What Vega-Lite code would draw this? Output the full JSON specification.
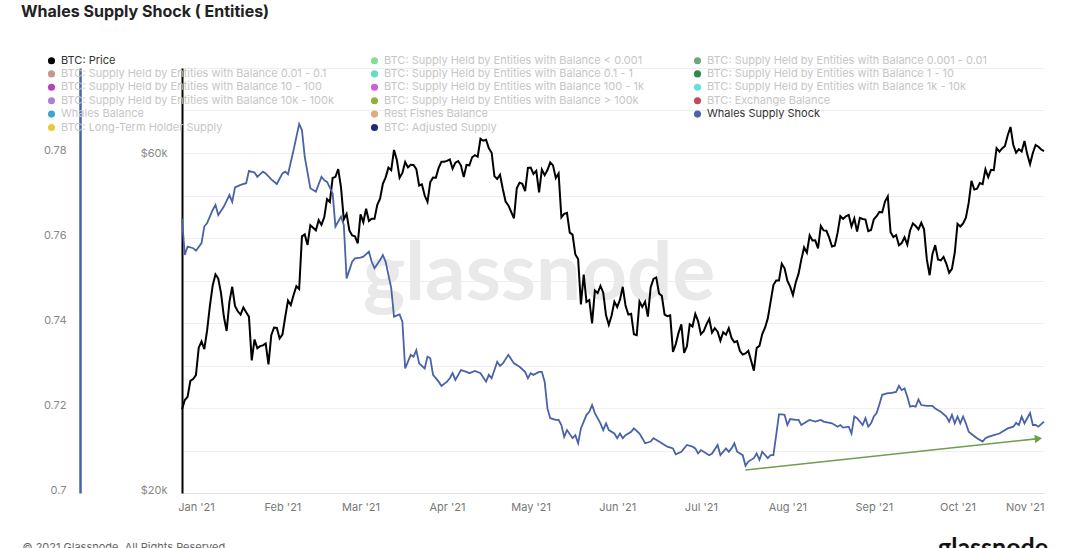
{
  "$schema": "https://vega.github.io/schema/vega-lite/v6.json",
  "width": 862,
  "height": 425,
  "autosize": {"type": "none"},
  "padding": {"left": 182, "top": 68, "right": 36, "bottom": 55},
  "background": "#ffffff",
  "title": {
    "text": "Whales Supply Shock ( Entities)",
    "anchor": "start",
    "font": "Inter",
    "fontSize": 16,
    "fontWeight": "bold",
    "color": "#222222",
    "dx": -1,
    "dy": -31
  },
  "datasets": {
    "price": [
      {"date": "2020-12-27", "price": 26272}, {"date": "2020-12-28", "price": 27084}, {"date": "2020-12-29", "price": 27362},
      {"date": "2020-12-30", "price": 28840}, {"date": "2020-12-31", "price": 29001}, {"date": "2021-01-01", "price": 29374},
      {"date": "2021-01-02", "price": 32127}, {"date": "2021-01-03", "price": 32782}, {"date": "2021-01-04", "price": 31971},
      {"date": "2021-01-05", "price": 33992}, {"date": "2021-01-06", "price": 36824}, {"date": "2021-01-07", "price": 39371},
      {"date": "2021-01-08", "price": 40797}, {"date": "2021-01-09", "price": 40254}, {"date": "2021-01-10", "price": 38356},
      {"date": "2021-01-11", "price": 35566}, {"date": "2021-01-12", "price": 33922}, {"date": "2021-01-13", "price": 37316},
      {"date": "2021-01-14", "price": 39187}, {"date": "2021-01-15", "price": 36825}, {"date": "2021-01-16", "price": 36178},
      {"date": "2021-01-17", "price": 35792}, {"date": "2021-01-18", "price": 36630}, {"date": "2021-01-19", "price": 36069},
      {"date": "2021-01-20", "price": 35548}, {"date": "2021-01-21", "price": 30826}, {"date": "2021-01-22", "price": 33005},
      {"date": "2021-01-23", "price": 32067}, {"date": "2021-01-24", "price": 32289}, {"date": "2021-01-25", "price": 32366},
      {"date": "2021-01-26", "price": 32569}, {"date": "2021-01-27", "price": 30432}, {"date": "2021-01-28", "price": 33466},
      {"date": "2021-01-29", "price": 34316}, {"date": "2021-01-30", "price": 34269}, {"date": "2021-01-31", "price": 33114},
      {"date": "2021-02-01", "price": 33537}, {"date": "2021-02-02", "price": 35510}, {"date": "2021-02-03", "price": 37472},
      {"date": "2021-02-04", "price": 36926}, {"date": "2021-02-05", "price": 38144}, {"date": "2021-02-06", "price": 39266},
      {"date": "2021-02-07", "price": 38903}, {"date": "2021-02-08", "price": 46196}, {"date": "2021-02-09", "price": 46481},
      {"date": "2021-02-10", "price": 44918}, {"date": "2021-02-11", "price": 47909}, {"date": "2021-02-12", "price": 47505},
      {"date": "2021-02-13", "price": 47105}, {"date": "2021-02-14", "price": 48717}, {"date": "2021-02-15", "price": 47945},
      {"date": "2021-02-16", "price": 49199}, {"date": "2021-02-17", "price": 52149}, {"date": "2021-02-18", "price": 51679},
      {"date": "2021-02-19", "price": 55888}, {"date": "2021-02-20", "price": 56100}, {"date": "2021-02-21", "price": 57539},
      {"date": "2021-02-22", "price": 54207}, {"date": "2021-02-23", "price": 48824}, {"date": "2021-02-24", "price": 49705},
      {"date": "2021-02-25", "price": 47093}, {"date": "2021-02-26", "price": 46339}, {"date": "2021-02-27", "price": 46188},
      {"date": "2021-02-28", "price": 45137}, {"date": "2021-03-01", "price": 49631}, {"date": "2021-03-02", "price": 48378},
      {"date": "2021-03-03", "price": 50538}, {"date": "2021-03-04", "price": 48561}, {"date": "2021-03-05", "price": 48927},
      {"date": "2021-03-06", "price": 48912}, {"date": "2021-03-07", "price": 51206}, {"date": "2021-03-08", "price": 52246},
      {"date": "2021-03-09", "price": 54824}, {"date": "2021-03-10", "price": 56008}, {"date": "2021-03-11", "price": 57805},
      {"date": "2021-03-12", "price": 57332}, {"date": "2021-03-13", "price": 61243}, {"date": "2021-03-14", "price": 59302},
      {"date": "2021-03-15", "price": 55907}, {"date": "2021-03-16", "price": 56804}, {"date": "2021-03-17", "price": 58870},
      {"date": "2021-03-18", "price": 57858}, {"date": "2021-03-19", "price": 58346}, {"date": "2021-03-20", "price": 58313},
      {"date": "2021-03-21", "price": 57523}, {"date": "2021-03-22", "price": 54529}, {"date": "2021-03-23", "price": 54738},
      {"date": "2021-03-24", "price": 52774}, {"date": "2021-03-25", "price": 51704}, {"date": "2021-03-26", "price": 55137},
      {"date": "2021-03-27", "price": 55974}, {"date": "2021-03-28", "price": 55947}, {"date": "2021-03-29", "price": 57750},
      {"date": "2021-03-30", "price": 58917}, {"date": "2021-03-31", "price": 58918}, {"date": "2021-04-01", "price": 59095},
      {"date": "2021-04-02", "price": 59384}, {"date": "2021-04-03", "price": 57604}, {"date": "2021-04-04", "price": 58760},
      {"date": "2021-04-05", "price": 59057}, {"date": "2021-04-06", "price": 58192}, {"date": "2021-04-07", "price": 56048},
      {"date": "2021-04-08", "price": 58323}, {"date": "2021-04-09", "price": 58245}, {"date": "2021-04-10", "price": 59793},
      {"date": "2021-04-11", "price": 60204}, {"date": "2021-04-12", "price": 59893}, {"date": "2021-04-13", "price": 63503},
      {"date": "2021-04-14", "price": 63110}, {"date": "2021-04-15", "price": 63314}, {"date": "2021-04-16", "price": 61572},
      {"date": "2021-04-17", "price": 60683}, {"date": "2021-04-18", "price": 56216}, {"date": "2021-04-19", "price": 55724},
      {"date": "2021-04-20", "price": 56473}, {"date": "2021-04-21", "price": 53906}, {"date": "2021-04-22", "price": 51762},
      {"date": "2021-04-23", "price": 51093}, {"date": "2021-04-24", "price": 50050}, {"date": "2021-04-25", "price": 49004},
      {"date": "2021-04-26", "price": 54021}, {"date": "2021-04-27", "price": 55033}, {"date": "2021-04-28", "price": 54824},
      {"date": "2021-04-29", "price": 53555}, {"date": "2021-04-30", "price": 57750}, {"date": "2021-05-01", "price": 57828},
      {"date": "2021-05-02", "price": 56631}, {"date": "2021-05-03", "price": 57200}, {"date": "2021-05-04", "price": 53333},
      {"date": "2021-05-05", "price": 57424}, {"date": "2021-05-06", "price": 56396}, {"date": "2021-05-07", "price": 57356},
      {"date": "2021-05-08", "price": 58803}, {"date": "2021-05-09", "price": 58232}, {"date": "2021-05-10", "price": 55859},
      {"date": "2021-05-11", "price": 56704}, {"date": "2021-05-12", "price": 49150}, {"date": "2021-05-13", "price": 49716},
      {"date": "2021-05-14", "price": 49880}, {"date": "2021-05-15", "price": 46760}, {"date": "2021-05-16", "price": 46456},
      {"date": "2021-05-17", "price": 43537}, {"date": "2021-05-18", "price": 42909}, {"date": "2021-05-19", "price": 37002},
      {"date": "2021-05-20", "price": 40782}, {"date": "2021-05-21", "price": 37304}, {"date": "2021-05-22", "price": 37536},
      {"date": "2021-05-23", "price": 34771}, {"date": "2021-05-24", "price": 38705}, {"date": "2021-05-25", "price": 38402},
      {"date": "2021-05-26", "price": 39294}, {"date": "2021-05-27", "price": 38436}, {"date": "2021-05-28", "price": 35697},
      {"date": "2021-05-29", "price": 34616}, {"date": "2021-05-30", "price": 35678}, {"date": "2021-05-31", "price": 37332},
      {"date": "2021-06-01", "price": 36684}, {"date": "2021-06-02", "price": 37575}, {"date": "2021-06-03", "price": 39188},
      {"date": "2021-06-04", "price": 36825}, {"date": "2021-06-05", "price": 35791}, {"date": "2021-06-06", "price": 35887},
      {"date": "2021-06-07", "price": 33561}, {"date": "2021-06-08", "price": 33473}, {"date": "2021-06-09", "price": 37345},
      {"date": "2021-06-10", "price": 36702}, {"date": "2021-06-11", "price": 37334}, {"date": "2021-06-12", "price": 35552},
      {"date": "2021-06-13", "price": 39098}, {"date": "2021-06-14", "price": 40219}, {"date": "2021-06-15", "price": 40407},
      {"date": "2021-06-16", "price": 38347}, {"date": "2021-06-17", "price": 38053}, {"date": "2021-06-18", "price": 35787},
      {"date": "2021-06-19", "price": 35615}, {"date": "2021-06-20", "price": 35698}, {"date": "2021-06-21", "price": 31676},
      {"date": "2021-06-22", "price": 32505}, {"date": "2021-06-23", "price": 33724}, {"date": "2021-06-24", "price": 34663},
      {"date": "2021-06-25", "price": 31594}, {"date": "2021-06-26", "price": 32276}, {"date": "2021-06-27", "price": 34668},
      {"date": "2021-06-28", "price": 34435}, {"date": "2021-06-29", "price": 35867}, {"date": "2021-06-30", "price": 35041},
      {"date": "2021-07-01", "price": 33573}, {"date": "2021-07-02", "price": 33897}, {"date": "2021-07-03", "price": 34668},
      {"date": "2021-07-04", "price": 35287}, {"date": "2021-07-05", "price": 33747}, {"date": "2021-07-06", "price": 34236},
      {"date": "2021-07-07", "price": 33855}, {"date": "2021-07-08", "price": 32877}, {"date": "2021-07-09", "price": 33798},
      {"date": "2021-07-10", "price": 33520}, {"date": "2021-07-11", "price": 34240}, {"date": "2021-07-12", "price": 33155},
      {"date": "2021-07-13", "price": 32702}, {"date": "2021-07-14", "price": 32822}, {"date": "2021-07-15", "price": 31780},
      {"date": "2021-07-16", "price": 31421}, {"date": "2021-07-17", "price": 31533}, {"date": "2021-07-18", "price": 31796},
      {"date": "2021-07-19", "price": 30817}, {"date": "2021-07-20", "price": 29807}, {"date": "2021-07-21", "price": 32110},
      {"date": "2021-07-22", "price": 32313}, {"date": "2021-07-23", "price": 33581}, {"date": "2021-07-24", "price": 34292},
      {"date": "2021-07-25", "price": 35350}, {"date": "2021-07-26", "price": 37337}, {"date": "2021-07-27", "price": 39406},
      {"date": "2021-07-28", "price": 39995}, {"date": "2021-07-29", "price": 40008}, {"date": "2021-07-30", "price": 42235},
      {"date": "2021-07-31", "price": 41626}, {"date": "2021-08-01", "price": 39974}, {"date": "2021-08-02", "price": 39201},
      {"date": "2021-08-03", "price": 38152}, {"date": "2021-08-04", "price": 39747}, {"date": "2021-08-05", "price": 40869},
      {"date": "2021-08-06", "price": 42816}, {"date": "2021-08-07", "price": 44555}, {"date": "2021-08-08", "price": 43798},
      {"date": "2021-08-09", "price": 46365}, {"date": "2021-08-10", "price": 45585}, {"date": "2021-08-11", "price": 45593},
      {"date": "2021-08-12", "price": 44428}, {"date": "2021-08-13", "price": 47793}, {"date": "2021-08-14", "price": 47096},
      {"date": "2021-08-15", "price": 47047}, {"date": "2021-08-16", "price": 46004}, {"date": "2021-08-17", "price": 44695},
      {"date": "2021-08-18", "price": 44801}, {"date": "2021-08-19", "price": 46717}, {"date": "2021-08-20", "price": 49339},
      {"date": "2021-08-21", "price": 48905}, {"date": "2021-08-22", "price": 49321}, {"date": "2021-08-23", "price": 49546},
      {"date": "2021-08-24", "price": 47706}, {"date": "2021-08-25", "price": 48960}, {"date": "2021-08-26", "price": 46942},
      {"date": "2021-08-27", "price": 49058}, {"date": "2021-08-28", "price": 48897}, {"date": "2021-08-29", "price": 48806},
      {"date": "2021-08-30", "price": 46991}, {"date": "2021-08-31", "price": 47166}, {"date": "2021-09-01", "price": 48847},
      {"date": "2021-09-02", "price": 49327}, {"date": "2021-09-03", "price": 50025}, {"date": "2021-09-04", "price": 49944},
      {"date": "2021-09-05", "price": 51753}, {"date": "2021-09-06", "price": 52633}, {"date": "2021-09-07", "price": 46811},
      {"date": "2021-09-08", "price": 46091}, {"date": "2021-09-09", "price": 46391}, {"date": "2021-09-10", "price": 44883},
      {"date": "2021-09-11", "price": 45201}, {"date": "2021-09-12", "price": 46063}, {"date": "2021-09-13", "price": 44963},
      {"date": "2021-09-14", "price": 47092}, {"date": "2021-09-15", "price": 48176}, {"date": "2021-09-16", "price": 47783},
      {"date": "2021-09-17", "price": 47268}, {"date": "2021-09-18", "price": 48278}, {"date": "2021-09-19", "price": 47260},
      {"date": "2021-09-20", "price": 42844}, {"date": "2021-09-21", "price": 40694}, {"date": "2021-09-22", "price": 43574},
      {"date": "2021-09-23", "price": 44896}, {"date": "2021-09-24", "price": 42840}, {"date": "2021-09-25", "price": 42716},
      {"date": "2021-09-26", "price": 43208}, {"date": "2021-09-27", "price": 42236}, {"date": "2021-09-28", "price": 41034},
      {"date": "2021-09-29", "price": 41564}, {"date": "2021-09-30", "price": 43790}, {"date": "2021-10-01", "price": 48116},
      {"date": "2021-10-02", "price": 47711}, {"date": "2021-10-03", "price": 48199}, {"date": "2021-10-04", "price": 49112},
      {"date": "2021-10-05", "price": 51514}, {"date": "2021-10-06", "price": 55361}, {"date": "2021-10-07", "price": 53805},
      {"date": "2021-10-08", "price": 53967}, {"date": "2021-10-09", "price": 54968}, {"date": "2021-10-10", "price": 54771},
      {"date": "2021-10-11", "price": 57484}, {"date": "2021-10-12", "price": 56041}, {"date": "2021-10-13", "price": 57401},
      {"date": "2021-10-14", "price": 57321}, {"date": "2021-10-15", "price": 61593}, {"date": "2021-10-16", "price": 60892},
      {"date": "2021-10-17", "price": 61553}, {"date": "2021-10-18", "price": 62026}, {"date": "2021-10-19", "price": 64261},
      {"date": "2021-10-20", "price": 65992}, {"date": "2021-10-21", "price": 62210}, {"date": "2021-10-22", "price": 60692},
      {"date": "2021-10-23", "price": 61393}, {"date": "2021-10-24", "price": 60930}, {"date": "2021-10-25", "price": 63039},
      {"date": "2021-10-26", "price": 60363}, {"date": "2021-10-27", "price": 58482}, {"date": "2021-10-28", "price": 60622},
      {"date": "2021-10-29", "price": 62228}, {"date": "2021-10-30", "price": 61888}, {"date": "2021-10-31", "price": 61318},
      {"date": "2021-11-01", "price": 61004}
    ],
    "wss": [
      {"date": "2020-12-27", "wss": 0.7646}, {"date": "2020-12-28", "wss": 0.756}, {"date": "2020-12-29", "wss": 0.758},
      {"date": "2020-12-31", "wss": 0.7576}, {"date": "2021-01-01", "wss": 0.757}, {"date": "2021-01-03", "wss": 0.7588},
      {"date": "2021-01-04", "wss": 0.7627}, {"date": "2021-01-05", "wss": 0.7635}, {"date": "2021-01-07", "wss": 0.7666},
      {"date": "2021-01-08", "wss": 0.7678}, {"date": "2021-01-09", "wss": 0.7654}, {"date": "2021-01-11", "wss": 0.7674},
      {"date": "2021-01-13", "wss": 0.7701}, {"date": "2021-01-14", "wss": 0.7685}, {"date": "2021-01-15", "wss": 0.7719},
      {"date": "2021-01-17", "wss": 0.7725}, {"date": "2021-01-19", "wss": 0.7729}, {"date": "2021-01-20", "wss": 0.7758},
      {"date": "2021-01-22", "wss": 0.7754}, {"date": "2021-01-23", "wss": 0.7744}, {"date": "2021-01-25", "wss": 0.7756},
      {"date": "2021-01-26", "wss": 0.7752}, {"date": "2021-01-28", "wss": 0.7738}, {"date": "2021-01-30", "wss": 0.7727},
      {"date": "2021-02-01", "wss": 0.7752}, {"date": "2021-02-02", "wss": 0.7756}, {"date": "2021-02-03", "wss": 0.775},
      {"date": "2021-02-05", "wss": 0.7807}, {"date": "2021-02-07", "wss": 0.7868}, {"date": "2021-02-08", "wss": 0.7854},
      {"date": "2021-02-09", "wss": 0.7791}, {"date": "2021-02-11", "wss": 0.7717}, {"date": "2021-02-13", "wss": 0.7709},
      {"date": "2021-02-15", "wss": 0.7744}, {"date": "2021-02-16", "wss": 0.7736}, {"date": "2021-02-17", "wss": 0.7732},
      {"date": "2021-02-19", "wss": 0.7705}, {"date": "2021-02-20", "wss": 0.7627}, {"date": "2021-02-22", "wss": 0.765},
      {"date": "2021-02-23", "wss": 0.7631}, {"date": "2021-02-24", "wss": 0.7505}, {"date": "2021-02-26", "wss": 0.7544},
      {"date": "2021-02-27", "wss": 0.7552}, {"date": "2021-03-01", "wss": 0.7554}, {"date": "2021-03-02", "wss": 0.7556},
      {"date": "2021-03-04", "wss": 0.7568}, {"date": "2021-03-05", "wss": 0.7544}, {"date": "2021-03-06", "wss": 0.7529},
      {"date": "2021-03-08", "wss": 0.7548}, {"date": "2021-03-09", "wss": 0.756}, {"date": "2021-03-10", "wss": 0.7544},
      {"date": "2021-03-12", "wss": 0.7482}, {"date": "2021-03-13", "wss": 0.7415}, {"date": "2021-03-15", "wss": 0.742},
      {"date": "2021-03-16", "wss": 0.7403}, {"date": "2021-03-17", "wss": 0.7293}, {"date": "2021-03-18", "wss": 0.7309},
      {"date": "2021-03-19", "wss": 0.7325}, {"date": "2021-03-20", "wss": 0.7321}, {"date": "2021-03-21", "wss": 0.7336},
      {"date": "2021-03-22", "wss": 0.7305}, {"date": "2021-03-24", "wss": 0.7293}, {"date": "2021-03-25", "wss": 0.7321},
      {"date": "2021-03-26", "wss": 0.7317}, {"date": "2021-03-27", "wss": 0.7278}, {"date": "2021-03-29", "wss": 0.7262},
      {"date": "2021-03-30", "wss": 0.7252}, {"date": "2021-04-01", "wss": 0.7262}, {"date": "2021-04-02", "wss": 0.727},
      {"date": "2021-04-03", "wss": 0.7282}, {"date": "2021-04-04", "wss": 0.7266}, {"date": "2021-04-06", "wss": 0.7289},
      {"date": "2021-04-08", "wss": 0.7285}, {"date": "2021-04-09", "wss": 0.7282}, {"date": "2021-04-11", "wss": 0.7287},
      {"date": "2021-04-13", "wss": 0.7282}, {"date": "2021-04-15", "wss": 0.7262}, {"date": "2021-04-16", "wss": 0.7278},
      {"date": "2021-04-17", "wss": 0.727}, {"date": "2021-04-19", "wss": 0.7309}, {"date": "2021-04-20", "wss": 0.7299},
      {"date": "2021-04-21", "wss": 0.7305}, {"date": "2021-04-23", "wss": 0.7325}, {"date": "2021-04-25", "wss": 0.7305},
      {"date": "2021-04-27", "wss": 0.7297}, {"date": "2021-04-29", "wss": 0.7285}, {"date": "2021-04-30", "wss": 0.727},
      {"date": "2021-05-01", "wss": 0.7282}, {"date": "2021-05-02", "wss": 0.7278}, {"date": "2021-05-04", "wss": 0.7285},
      {"date": "2021-05-05", "wss": 0.7285}, {"date": "2021-05-06", "wss": 0.7262}, {"date": "2021-05-07", "wss": 0.7199},
      {"date": "2021-05-08", "wss": 0.7176}, {"date": "2021-05-10", "wss": 0.7172}, {"date": "2021-05-11", "wss": 0.7172},
      {"date": "2021-05-12", "wss": 0.716}, {"date": "2021-05-13", "wss": 0.7132}, {"date": "2021-05-14", "wss": 0.7148},
      {"date": "2021-05-16", "wss": 0.7129}, {"date": "2021-05-17", "wss": 0.7136}, {"date": "2021-05-18", "wss": 0.7117},
      {"date": "2021-05-19", "wss": 0.7152}, {"date": "2021-05-21", "wss": 0.7184}, {"date": "2021-05-22", "wss": 0.7191},
      {"date": "2021-05-23", "wss": 0.7207}, {"date": "2021-05-24", "wss": 0.7188}, {"date": "2021-05-26", "wss": 0.7164},
      {"date": "2021-05-27", "wss": 0.7148}, {"date": "2021-05-28", "wss": 0.7164}, {"date": "2021-05-29", "wss": 0.7148},
      {"date": "2021-05-31", "wss": 0.714}, {"date": "2021-06-01", "wss": 0.7129}, {"date": "2021-06-02", "wss": 0.714},
      {"date": "2021-06-03", "wss": 0.7129}, {"date": "2021-06-04", "wss": 0.7136}, {"date": "2021-06-06", "wss": 0.7144},
      {"date": "2021-06-07", "wss": 0.7152}, {"date": "2021-06-09", "wss": 0.714}, {"date": "2021-06-10", "wss": 0.7129},
      {"date": "2021-06-11", "wss": 0.7117}, {"date": "2021-06-13", "wss": 0.7121}, {"date": "2021-06-14", "wss": 0.7129},
      {"date": "2021-06-16", "wss": 0.7121}, {"date": "2021-06-17", "wss": 0.7117}, {"date": "2021-06-19", "wss": 0.7109},
      {"date": "2021-06-21", "wss": 0.7105}, {"date": "2021-06-22", "wss": 0.7091}, {"date": "2021-06-24", "wss": 0.7097},
      {"date": "2021-06-26", "wss": 0.7113}, {"date": "2021-06-28", "wss": 0.7109}, {"date": "2021-06-29", "wss": 0.7105},
      {"date": "2021-06-30", "wss": 0.7093}, {"date": "2021-07-01", "wss": 0.7101}, {"date": "2021-07-02", "wss": 0.7097},
      {"date": "2021-07-04", "wss": 0.7089}, {"date": "2021-07-05", "wss": 0.7093}, {"date": "2021-07-07", "wss": 0.7113},
      {"date": "2021-07-08", "wss": 0.7089}, {"date": "2021-07-10", "wss": 0.7105}, {"date": "2021-07-11", "wss": 0.7097},
      {"date": "2021-07-12", "wss": 0.7105}, {"date": "2021-07-13", "wss": 0.7117}, {"date": "2021-07-14", "wss": 0.7097},
      {"date": "2021-07-16", "wss": 0.7089}, {"date": "2021-07-17", "wss": 0.7064}, {"date": "2021-07-18", "wss": 0.7074},
      {"date": "2021-07-20", "wss": 0.7082}, {"date": "2021-07-21", "wss": 0.7093}, {"date": "2021-07-22", "wss": 0.7078},
      {"date": "2021-07-23", "wss": 0.7097}, {"date": "2021-07-25", "wss": 0.7082}, {"date": "2021-07-26", "wss": 0.7089},
      {"date": "2021-07-27", "wss": 0.7089}, {"date": "2021-07-28", "wss": 0.7136}, {"date": "2021-07-29", "wss": 0.7185},
      {"date": "2021-07-30", "wss": 0.7185}, {"date": "2021-07-31", "wss": 0.7184}, {"date": "2021-08-01", "wss": 0.716},
      {"date": "2021-08-02", "wss": 0.7174}, {"date": "2021-08-04", "wss": 0.7172}, {"date": "2021-08-05", "wss": 0.7172},
      {"date": "2021-08-06", "wss": 0.716}, {"date": "2021-08-08", "wss": 0.7168}, {"date": "2021-08-09", "wss": 0.7172},
      {"date": "2021-08-11", "wss": 0.7168}, {"date": "2021-08-13", "wss": 0.7172}, {"date": "2021-08-14", "wss": 0.7168},
      {"date": "2021-08-17", "wss": 0.7164}, {"date": "2021-08-19", "wss": 0.7156}, {"date": "2021-08-20", "wss": 0.716},
      {"date": "2021-08-21", "wss": 0.7154}, {"date": "2021-08-23", "wss": 0.7156}, {"date": "2021-08-24", "wss": 0.714},
      {"date": "2021-08-25", "wss": 0.718}, {"date": "2021-08-26", "wss": 0.7176}, {"date": "2021-08-28", "wss": 0.716},
      {"date": "2021-08-29", "wss": 0.7176}, {"date": "2021-08-30", "wss": 0.7156}, {"date": "2021-08-31", "wss": 0.7164},
      {"date": "2021-09-01", "wss": 0.718}, {"date": "2021-09-02", "wss": 0.7188}, {"date": "2021-09-03", "wss": 0.7209},
      {"date": "2021-09-04", "wss": 0.7231}, {"date": "2021-09-06", "wss": 0.7235}, {"date": "2021-09-07", "wss": 0.7235},
      {"date": "2021-09-09", "wss": 0.7238}, {"date": "2021-09-10", "wss": 0.7252}, {"date": "2021-09-11", "wss": 0.7242},
      {"date": "2021-09-12", "wss": 0.7246}, {"date": "2021-09-13", "wss": 0.7227}, {"date": "2021-09-14", "wss": 0.7203},
      {"date": "2021-09-15", "wss": 0.7205}, {"date": "2021-09-16", "wss": 0.7203}, {"date": "2021-09-17", "wss": 0.722},
      {"date": "2021-09-18", "wss": 0.7207}, {"date": "2021-09-20", "wss": 0.7205}, {"date": "2021-09-22", "wss": 0.7205},
      {"date": "2021-09-23", "wss": 0.7199}, {"date": "2021-09-25", "wss": 0.7191}, {"date": "2021-09-27", "wss": 0.718},
      {"date": "2021-09-28", "wss": 0.7168}, {"date": "2021-09-29", "wss": 0.7184}, {"date": "2021-09-30", "wss": 0.7164},
      {"date": "2021-10-01", "wss": 0.718}, {"date": "2021-10-02", "wss": 0.7164}, {"date": "2021-10-03", "wss": 0.718},
      {"date": "2021-10-04", "wss": 0.7164}, {"date": "2021-10-05", "wss": 0.7144}, {"date": "2021-10-06", "wss": 0.7139},
      {"date": "2021-10-08", "wss": 0.7129}, {"date": "2021-10-10", "wss": 0.7121}, {"date": "2021-10-11", "wss": 0.7129},
      {"date": "2021-10-12", "wss": 0.7132}, {"date": "2021-10-14", "wss": 0.7136}, {"date": "2021-10-16", "wss": 0.714},
      {"date": "2021-10-17", "wss": 0.7144}, {"date": "2021-10-19", "wss": 0.7152}, {"date": "2021-10-21", "wss": 0.7156},
      {"date": "2021-10-22", "wss": 0.7165}, {"date": "2021-10-23", "wss": 0.716}, {"date": "2021-10-24", "wss": 0.718},
      {"date": "2021-10-25", "wss": 0.7164}, {"date": "2021-10-27", "wss": 0.7188}, {"date": "2021-10-28", "wss": 0.716},
      {"date": "2021-10-29", "wss": 0.716}, {"date": "2021-10-30", "wss": 0.7156}, {"date": "2021-11-01", "wss": 0.7168}
    ],
    "series": [
      {"name": "BTC: Price"},
      {"name": "BTC: Supply Held by Entities with Balance < 0.001"},
      {"name": "BTC: Supply Held by Entities with Balance 0.001 - 0.01"},
      {"name": "BTC: Supply Held by Entities with Balance 0.01 - 0.1"},
      {"name": "BTC: Supply Held by Entities with Balance 0.1 - 1"},
      {"name": "BTC: Supply Held by Entities with Balance 1 - 10"},
      {"name": "BTC: Supply Held by Entities with Balance 10 - 100"},
      {"name": "BTC: Supply Held by Entities with Balance 100 - 1k"},
      {"name": "BTC: Supply Held by Entities with Balance 1k - 10k"},
      {"name": "BTC: Supply Held by Entities with Balance 10k - 100k"},
      {"name": "BTC: Supply Held by Entities with Balance > 100k"},
      {"name": "BTC: Exchange Balance"},
      {"name": "Whales Balance"},
      {"name": "Rest Fishes Balance"},
      {"name": "Whales Supply Shock"},
      {"name": "BTC: Long-Term Holder Supply"},
      {"name": "BTC: Adjusted Supply"}
    ]
  },
  "layer": [
    {
      "data": {"values": [{"label": "glassnode"}]},
      "mark": {"type": "text", "font": "Lato", "fontSize": 80, "fontWeight": "bold", "color": "#e9e9e9", "align": "center", "baseline": "alphabetic"},
      "encoding": {
        "x": {"datum": {"year": 2021, "month": 5, "date": 4, "utc": true}, "type": "temporal",
              "scale": {"type": "utc", "domain": [{"year": 2020, "month": 12, "date": 27, "utc": true}, {"year": 2021, "month": 11, "date": 1, "utc": true}]}},
        "y": {"datum": 0.7454, "type": "quantitative", "scale": {"domain": [0.7, 0.8], "nice": false, "zero": false}, "axis": null},
        "text": {"field": "label"}
      }
    },
    {
      "data": {"name": "price"},
      "mark": {"type": "line", "color": "#000000", "strokeWidth": 2, "interpolate": "linear"},
      "encoding": {
        "x": {
          "field": "date", "type": "temporal",
          "scale": {"type": "utc", "domain": [{"year": 2020, "month": 12, "date": 27, "utc": true}, {"year": 2021, "month": 11, "date": 1, "utc": true}]},
          "axis": {
            "title": "© 2021 Glassnode. All Rights Reserved.",
            "titleX": -160, "titleY": 48, "titleAnchor": "start", "titleAlign": "left", "titleBaseline": "top",
            "titleFont": "Inter", "titleFontSize": 11, "titleFontWeight": "normal", "titleColor": "#666666",
            "labelExpr": "utcFormat(datum.value, \"%b '%y\")", "tickCount": {"interval": "month", "step": 1},
            "labelFont": "Inter", "labelFontSize": 11, "labelColor": "#777777", "labelPadding": 8, "labelFlush": true,
            "ticks": false, "grid": false, "domainColor": "#e3e3e3", "domainWidth": 1
          }
        },
        "y": {
          "field": "price", "type": "quantitative",
          "scale": {"type": "log", "domain": [20000, 80000], "nice": false},
          "axis": {
            "orient": "left", "offset": 0, "title": null, "values": [20000, 60000],
            "labelExpr": "'$' + (datum.value / 1000) + 'k'",
            "labelFont": "Inter", "labelFontSize": 11, "labelColor": "#888888", "labelPadding": 15, "labelBaseline": "alphabetic",
            "ticks": false, "grid": false, "domainColor": "#000000", "domainWidth": 2
          }
        }
      }
    },
    {
      "layer": [
        {
          "data": {"name": "wss"},
          "mark": {"type": "line", "color": "#4a63a8", "strokeWidth": 1.8},
          "encoding": {
            "x": {"field": "date", "type": "temporal"},
            "y": {
              "field": "wss", "type": "quantitative",
              "scale": {"domain": [0.7, 0.8], "nice": false, "zero": false},
              "axis": {
                "orient": "left", "offset": 102, "title": null,
                "values": [0.7, 0.71, 0.72, 0.73, 0.74, 0.75, 0.76, 0.77, 0.78, 0.79, 0.8],
                "labelExpr": "datum.value < 0.785 && round(datum.value * 100) % 2 == 0 ? format(datum.value, '~g') : ''",
                "labelFont": "Inter", "labelFontSize": 11, "labelColor": "#888888", "labelPadding": 14, "labelBaseline": "alphabetic",
                "ticks": false, "grid": true, "gridColor": "#efefef", "gridWidth": 1,
                "domainColor": "#4a63a8", "domainWidth": 2.5
              }
            }
          }
        },
        {
          "mark": {"type": "rule", "color": "#111111", "strokeWidth": 1.8, "strokeDash": [7, 5]},
          "encoding": {"y": {"datum": 0.7176, "type": "quantitative"}}
        },
        {
          "data": {"values": [{"start": "2021-07-17", "end": "2021-10-30", "from": 0.7054, "to": 0.7128}]},
          "mark": {"type": "rule", "color": "#6e9e4e", "strokeWidth": 1.6},
          "encoding": {
            "x": {"field": "start", "type": "temporal"},
            "x2": {"field": "end"},
            "y": {"field": "from", "type": "quantitative"},
            "y2": {"field": "to"}
          }
        },
        {
          "data": {"values": [{"end": "2021-10-30", "to": 0.7128}]},
          "mark": {"type": "point", "shape": "triangle-right", "filled": true, "color": "#6e9e4e", "size": 70, "opacity": 1, "angle": -6},
          "encoding": {
            "x": {"field": "end", "type": "temporal"},
            "y": {"field": "to", "type": "quantitative"}
          }
        }
      ]
    },
    {
      "data": {"values": [{"label": "glassnode"}]},
      "mark": {"type": "text", "font": "Lato", "fontSize": 25, "fontWeight": "bold", "color": "#111111", "align": "left", "baseline": "top"},
      "encoding": {
        "x": {"datum": {"year": 2021, "month": 9, "date": 24, "utc": true}, "type": "temporal"},
        "y": {"datum": 0.6899, "type": "quantitative", "scale": {"domain": [0.7, 0.8], "nice": false, "zero": false}, "axis": null},
        "text": {"field": "label"}
      }
    },
    {
      "data": {"name": "series"},
      "mark": {"type": "circle", "opacity": 0},
      "encoding": {
        "color": {
          "field": "name", "type": "nominal",
          "scale": {
            "domain": [
              "BTC: Price",
              "BTC: Supply Held by Entities with Balance < 0.001",
              "BTC: Supply Held by Entities with Balance 0.001 - 0.01",
              "BTC: Supply Held by Entities with Balance 0.01 - 0.1",
              "BTC: Supply Held by Entities with Balance 0.1 - 1",
              "BTC: Supply Held by Entities with Balance 1 - 10",
              "BTC: Supply Held by Entities with Balance 10 - 100",
              "BTC: Supply Held by Entities with Balance 100 - 1k",
              "BTC: Supply Held by Entities with Balance 1k - 10k",
              "BTC: Supply Held by Entities with Balance 10k - 100k",
              "BTC: Supply Held by Entities with Balance > 100k",
              "BTC: Exchange Balance",
              "Whales Balance",
              "Rest Fishes Balance",
              "Whales Supply Shock",
              "BTC: Long-Term Holder Supply",
              "BTC: Adjusted Supply"
            ],
            "range": [
              "#000000", "#7fe092", "#6ea67e", "#c9978b", "#62dcc2", "#2f8a4a", "#b843b8", "#cc60cf", "#60e0da",
              "#a880d4", "#8fb33a", "#c24a5c", "#3fa4d2", "#e2aa7a", "#4a63a8", "#e8c93a", "#1f2a78"
            ]
          },
          "legend": {
            "orient": "none", "legendX": -136, "legendY": -13, "direction": "horizontal",
            "columns": 3, "gridAlign": "all", "columnPadding": 28, "rowPadding": 1.4,
            "title": null, "symbolType": "circle", "symbolSize": 50, "symbolOpacity": 1, "symbolStrokeWidth": 0,
            "labelFont": "Inter", "labelFontSize": 11, "labelLimit": 400, "labelOffset": 4,
            "encode": {
              "labels": {
                "update": {
                  "fill": {"signal": "datum.value === 'BTC: Price' || datum.value === 'Whales Supply Shock' ? '#333333' : '#c6c6c6'"}
                }
              }
            }
          }
        }
      }
    }
  ],
  "resolve": {"scale": {"y": "independent"}},
  "config": {
    "view": {"stroke": null},
    "font": "Inter"
  }
}
